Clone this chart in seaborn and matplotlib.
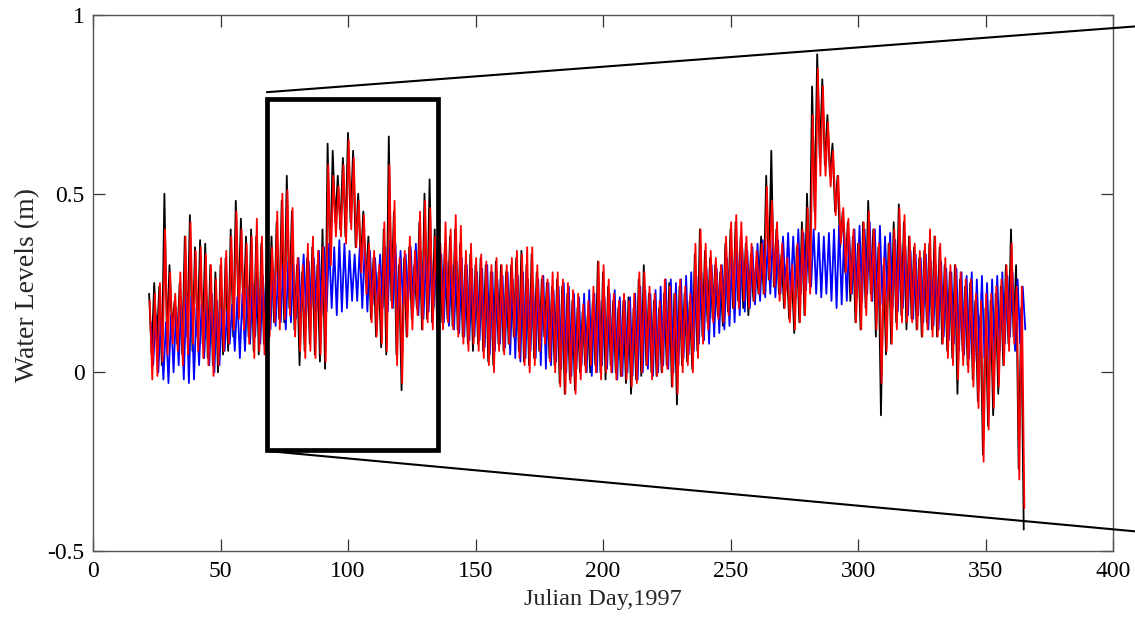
import numpy as np
import pandas as pd
import matplotlib
matplotlib.use("Agg")
import matplotlib.pyplot as plt
from matplotlib.patches import Rectangle
import seaborn as sns

# ---------------- data (water levels in cm, read every 2 days) ----------------
START_DAY = 22
STEP_DAYS = 2

obs_hi_cm = [22, 25, 24, 50, 30, 20, 25, 38, 44, 35, 37, 36, 30, 28, 30, 32, 40, 48, 43, 38,
             40, 38, 36, 30, 38, 42, 48, 55, 45, 30, 28, 32, 35, 30, 40, 64, 62, 55, 60, 67,
             62, 50, 45, 38, 32, 28, 40, 66, 45, 30, 32, 35, 30, 42, 50, 54, 40, 30, 36, 38,
             40, 36, 30, 33, 30, 32, 30, 28, 31, 30, 28, 30, 32, 34, 30, 33, 28, 26, 25, 24,
             26, 24, 22, 20, 18, 17, 16, 20, 31, 28, 24, 20, 18, 20, 21, 18, 26, 30, 22, 20,
             18, 22, 25, 22, 24, 22, 20, 33, 40, 34, 32, 30, 28, 36, 40, 42, 38, 36, 33, 30,
             38, 55, 62, 40, 33, 30, 28, 35, 42, 50, 80, 89, 82, 72, 64, 55, 45, 42, 38, 36,
             42, 48, 40, 35, 30, 36, 42, 47, 42, 38, 35, 32, 34, 36, 38, 35, 30, 28, 30, 26,
             24, 25, 20, 16, 18, 20, 22, 24, 30, 40, 30, 18]
obs_lo_cm = [5, 8, 2, 10, 12, 8, 5, 10, 6, 10, 8, 4, 2, 0, 5, 6, 10, 18, 15, 10,
             6, 5, 8, 12, 14, 15, 14, 18, 12, 2, 6, 8, 5, 3, 1, 30, 42, 40, 38, 42,
             35, 30, 25, 15, 10, 7, 5, 20, 5, -5, 10, 15, 18, 12, 15, 14, 12, 14, 15, 13,
             12, 10, 8, 6, 8, 6, 3, 2, 8, 6, 8, 10, 6, 3, 2, 4, 6, 10, 4, 2,
             -3, -6, -2, -5, 0, 2, 0, 2, 0, -2, 2, 0, -1, -3, -6, -2, -1, 2, 0, -1,
             0, 2, -4, -9, 2, 3, 1, 6, 10, 14, 15, 16, 13, 17, 18, 20, 18, 16, 20, 22,
             22, 26, 24, 22, 18, 15, 11, 14, 16, 25, 45, 60, 58, 55, 45, 35, 28, 20, 14, 12,
             18, 22, 10, -12, 5, 8, 14, 16, 12, 15, 12, 10, 14, 12, 10, 8, 6, 4, -6, 6,
             2, -2, -8, -23, -15, -12, -6, 2, 8, 10, -27, -44]

tide_hi_cm = [14, 16, 15, 14, 16, 18, 20, 22, 21, 18, 19, 21, 22, 20, 18, 17, 19, 21, 22, 24,
              25, 26, 27, 28, 29, 28, 30, 31, 30, 32, 33, 31, 32, 34, 35, 36, 35, 37, 36, 34,
              33, 35, 36, 34, 32, 33, 35, 37, 36, 34, 33, 35, 36, 34, 33, 32, 34, 33, 31, 30,
              31, 32, 30, 29, 28, 29, 30, 28, 26, 27, 28, 26, 27, 28, 26, 25, 26, 27, 25, 23,
              24, 25, 24, 22, 21, 22, 23, 22, 20, 21, 22, 23, 21, 20, 21, 22, 24, 23, 22, 23,
              24, 26, 26, 25, 26, 27, 28, 27, 28, 29, 30, 29, 30, 32, 33, 34, 35, 34, 35, 36,
              37, 36, 38, 37, 38, 39, 38, 40, 39, 38, 40, 39, 38, 39, 40, 41, 39, 38, 40, 41,
              40, 42, 40, 41, 38, 39, 37, 36, 35, 34, 33, 32, 33, 31, 30, 31, 29, 28, 29, 28,
              27, 28, 26, 27, 25, 26, 27, 28, 27, 28, 26, 24]
tide_lo_cm = [2, 0, -2, -3, 0, 2, -2, -3, -2, 2, 4, 2, 0, 2, 6, 8, 6, 4, 6, 8,
              10, 8, 10, 12, 13, 14, 12, 14, 15, 16, 16, 18, 17, 16, 17, 18, 16, 17, 18, 20,
              20, 18, 17, 19, 20, 18, 17, 18, 16, 19, 20, 18, 16, 15, 17, 18, 16, 14, 13, 12,
              11, 10, 9, 10, 9, 7, 5, 6, 8, 7, 5, 4, 3, 4, 6, 4, 2, 1, 2, 3,
              1, 0, -1, 1, 2, 0, -1, 0, 2, 1, 0, -2, -1, 0, -1, -2, 0, 1, -1, 0,
              2, 1, 0, 2, 4, 5, 6, 8, 9, 8, 10, 11, 12, 13, 14, 16, 17, 18, 19, 20,
              21, 22, 21, 22, 23, 22, 21, 22, 23, 24, 22, 21, 22, 20, 18, 19, 20, 22, 21, 20,
              22, 20, 18, 19, 20, 18, 17, 18, 16, 15, 16, 14, 12, 13, 12, 10, 9, 8, 6, 5,
              4, 3, 5, 4, 3, 4, 6, 8, 10, 6, 8, 12]

model_hi_cm = [20, 22, 25, 40, 28, 22, 28, 38, 42, 34, 35, 33, 30, 26, 32, 34, 38, 45, 40, 36,
               38, 43, 38, 32, 35, 45, 50, 51, 46, 32, 30, 36, 38, 34, 35, 58, 55, 52, 58, 65,
               60, 48, 44, 36, 34, 30, 42, 58, 48, 32, 34, 38, 34, 45, 48, 46, 38, 36, 42, 40,
               44, 41, 34, 36, 32, 33, 31, 30, 32, 30, 30, 32, 34, 33, 35, 35, 30, 27, 26, 28,
               28, 26, 25, 23, 22, 19, 20, 24, 31, 30, 26, 22, 20, 22, 20, 22, 28, 28, 24, 22,
               20, 26, 24, 22, 26, 24, 22, 36, 40, 36, 34, 32, 30, 38, 42, 44, 42, 38, 36, 34,
               36, 52, 48, 42, 36, 32, 30, 36, 40, 46, 72, 85, 80, 70, 62, 55, 46, 43, 40, 36,
               42, 45, 40, 36, 32, 36, 40, 46, 44, 38, 36, 34, 36, 40, 38, 36, 32, 30, 30, 28,
               26, 26, 22, 20, 22, 22, 24, 26, 30, 36, 24, 24]
model_lo_cm = [-2, -1, 3, 5, 8, 6, 2, 5, 8, 6, 4, 2, -1, 2, 6, 8, 12, 15, 12, 8,
               4, 6, 5, 10, 14, 12, 15, 16, 10, 6, 4, 6, 4, 5, 3, 30, 38, 38, 36, 40,
               35, 28, 22, 14, 10, 8, 6, 18, 2, -3, 10, 12, 16, 12, 14, 12, 14, 12, 14, 12,
               10, 8, 6, 8, 6, 4, 2, 0, 6, 5, 8, 10, 4, 2, 0, 2, 6, 8, 3, 0,
               -4, -6, -3, -6, -2, 0, 2, 0, -2, 0, 0, -2, -1, -2, -4, -3, 0, 2, -2, -1,
               0, 1, -4, -6, 0, 2, 0, 4, 8, 12, 14, 15, 14, 16, 18, 18, 20, 18, 20, 22,
               22, 26, 24, 20, 18, 14, 12, 14, 16, 22, 40, 55, 55, 52, 44, 36, 28, 22, 14, 12,
               16, 20, 12, -3, 6, 8, 12, 14, 14, 14, 12, 10, 12, 10, 10, 8, 4, 2, -2, 2,
               0, -4, -10, -25, -16, -10, -4, 2, 6, 8, -30, -38]

x_ticks = [0, 50, 100, 150, 200, 250, 300, 350, 400]
y_ticks = [-0.5, 0, 0.5, 1]
y_tick_labels = ["-0.5", "0", "0.5", "1"]

# zoom-box annotation (day range and level range)
box_days = (68.2, 135.4)
box_levels = (-0.217, 0.766)
callout_end_levels = (0.968, -0.445)   # where the callout lines meet the figure edge


def zigzag(hi_cm, lo_cm, name, phase):
    hi = np.asarray(hi_cm, dtype=float) / 100.0
    lo = np.asarray(lo_cm, dtype=float) / 100.0
    d = START_DAY + STEP_DAYS * np.arange(len(hi)) + phase
    x = np.column_stack([d, d + STEP_DAYS / 2]).ravel()
    y = np.column_stack([hi, lo]).ravel()
    return pd.DataFrame({"day": x, "level": y, "series": name})


df = pd.concat([
    zigzag(obs_hi_cm, obs_lo_cm, "Observed", 0.0),
    zigzag(tide_hi_cm, tide_lo_cm, "Tide", 0.6),
    zigzag(model_hi_cm, model_lo_cm, "Model", 0.25),
], ignore_index=True)

# ---------------- plot ----------------
sns.set_style("ticks")
plt.rcParams["font.family"] = ["Liberation Serif", "DejaVu Serif"]

W, H = 1135, 617
fig = plt.figure(figsize=(W / 100, H / 100), dpi=100)
ax = fig.add_axes([93 / W, 1 - 551 / H, 1020 / W, 536 / H])

sns.lineplot(data=df, x="day", y="level", hue="series",
             hue_order=["Observed", "Tide", "Model"],
             palette={"Observed": "#000000", "Tide": "#0000ff", "Model": "#ff0000"},
             estimator=None, sort=False, linewidth=1.3, legend=False, ax=ax)

ax.set_xlim(0, 400)
ax.set_ylim(-0.5, 1)
ax.set_xticks(x_ticks)
ax.set_xticklabels([str(t) for t in x_ticks])
ax.set_yticks(y_ticks)
ax.set_yticklabels(y_tick_labels)
ax.tick_params(direction="in", length=8.5, width=0.9, color="#333333",
               top=True, right=True, labelsize=17, labelcolor="black")
ax.tick_params(axis="x", pad=7)
ax.tick_params(axis="y", pad=6)
for s in ax.spines.values():
    s.set_color("#555555")
    s.set_linewidth(1.0)
    s.set_visible(True)

ax.set_xlabel("Julian Day,1997", fontsize=17.5)
ax.set_ylabel("Water Levels (m)", fontsize=20)
ax.xaxis.set_label_coords(0.5, -0.070)
ax.yaxis.set_label_coords(-0.052, 0.496)

# zoom box and callout lines
ax.add_patch(Rectangle((box_days[0], box_levels[0]), box_days[1] - box_days[0],
                       box_levels[1] - box_levels[0], fill=False, ec="black",
                       lw=3.4, zorder=5))
x_edge = ax.transData.inverted().transform(fig.transFigure.transform((1.0, 0.5)))[0]
ax.plot([box_days[0], x_edge], [box_levels[1] + 0.018, callout_end_levels[0]],
        color="black", lw=1.5, clip_on=False, zorder=5)
ax.plot([box_days[0], x_edge], [box_levels[0] - 0.003, callout_end_levels[1]],
        color="black", lw=1.5, clip_on=False, zorder=5)

fig.savefig("out.png", dpi=100)
